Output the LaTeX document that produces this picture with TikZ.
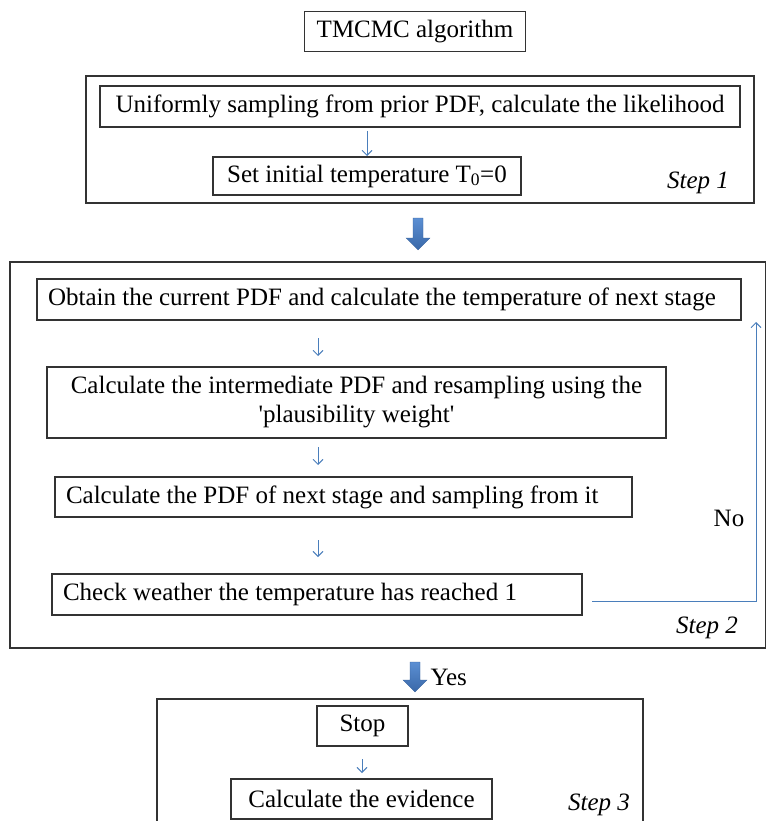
\documentclass[tikz,border=0pt]{standalone}
\usepackage{fontspec}
\setmainfont{Liberation Serif}
\usetikzlibrary{arrows.meta}
\definecolor{flowblue}{HTML}{4A7EBB}
\definecolor{arrtop}{HTML}{5B8FD3}
\definecolor{arrbot}{HTML}{3A68A8}
\newcommand{\lfttext}[2]{\makebox[#1][l]{#2}}
\begin{document}
\begin{tikzpicture}[x=1pt,y=-1pt,
  txt/.style={font=\fontsize{25}{29}\selectfont},
  box/.style={txt, draw=black!80, line width=1.1pt, inner sep=0pt, align=center},
  lbox/.style={box, inner xsep=11pt},
  frame/.style={draw=black!80, line width=1.3pt},
  flow/.style={draw=flowblue, line width=0.9pt, -{Straight Barb[length=5pt,width=10pt]}},
  loopline/.style={draw=flowblue, line width=1pt, -{Straight Barb[length=5pt,width=10pt]}},
  steplabel/.style={txt, font=\fontsize{25}{29}\selectfont\itshape},
  bigarrow/.style={top color=arrtop, bottom color=arrbot, draw=arrbot!90!black, line width=0.3pt}
]
\useasboundingbox (0,0) rectangle (766,821);

% title
\node[box, minimum width=221pt, minimum height=40pt] (title) at (415,31.5) {TMCMC algorithm};

% Step 1
\draw[frame] (86,76) rectangle (754,203);
\node[box, minimum width=640pt, minimum height=41pt] (u1) at (420,106.5) {Uniformly sampling from prior PDF, calculate the likelihood};
\node[box, minimum width=308pt, minimum height=38pt] (t0) at (367,176) {Set initial temperature T\textsubscript{0}=0};
\node[steplabel] (st1) at (698,183) {Step 1};
\coordinate (a0s) at (367,131);
\coordinate (a0e) at (367,156);
\draw[flow] (a0s) -- (a0e);

% big arrow 1
\draw[bigarrow] (413,218) -- (423,218) -- (423,238) -- (430,238) -- (418,250) -- (406,238) -- (413,238) -- cycle;

% Step 2
\draw[frame] (10,262) rectangle (765.5,648);
\node[lbox, minimum height=41pt] (o1) at (389,299.5) {\lfttext{682pt}{Obtain the current PDF and calculate the temperature of next stage}};
\node[box, minimum width=619pt, minimum height=71pt] (i1) at (356.5,402.5) {Calculate the intermediate PDF and resampling using the\\\textquotesingle plausibility weight\textquotesingle};
\node[lbox, minimum height=40pt] (p1) at (343.5,497) {\lfttext{555pt}{Calculate the PDF of next stage and sampling from it}};
\node[lbox, minimum height=41pt] (c1) at (317,594.5) {\lfttext{508pt}{Check weather the temperature has reached 1}};
\node[steplabel] (st2) at (707,628) {Step 2};

\coordinate (a1s) at (318,338);
\coordinate (a1e) at (318,356);
\coordinate (a2s) at (318,447);
\coordinate (a2e) at (318,465);
\coordinate (a3s) at (318,540);
\coordinate (a3e) at (318,557);
\draw[flow] (a1s) -- (a1e);
\draw[flow] (a2s) -- (a2e);
\draw[flow] (a3s) -- (a3e);

% No loop
\coordinate (ns) at (592,601);
\coordinate (nc) at (756,601);
\coordinate (ne) at (756,322);
\draw[loopline] (ns) -- (nc) -- (ne);
\node[txt] (no) at (729,518) {No};

% big arrow 2
\draw[bigarrow] (410,662) -- (420,662) -- (420,680) -- (427,680) -- (415,692) -- (403,680) -- (410,680) -- cycle;
\node[txt, anchor=west] (yes) at (427,677) {Yes};

% Step 3
\draw[frame] (157,825) -- (157,699) -- (643,699) -- (643,825);
\node[box, minimum width=91pt, minimum height=40pt] (s1) at (362.5,726) {Stop};
\node[box, minimum width=261pt, minimum height=40pt] (e1) at (361.5,799) {Calculate the evidence};
\node[steplabel] (st3) at (599,805) {Step 3};
\coordinate (a4s) at (362,759);
\coordinate (a4e) at (362,773);
\draw[flow] (a4s) -- (a4e);
\end{tikzpicture}
\end{document}
